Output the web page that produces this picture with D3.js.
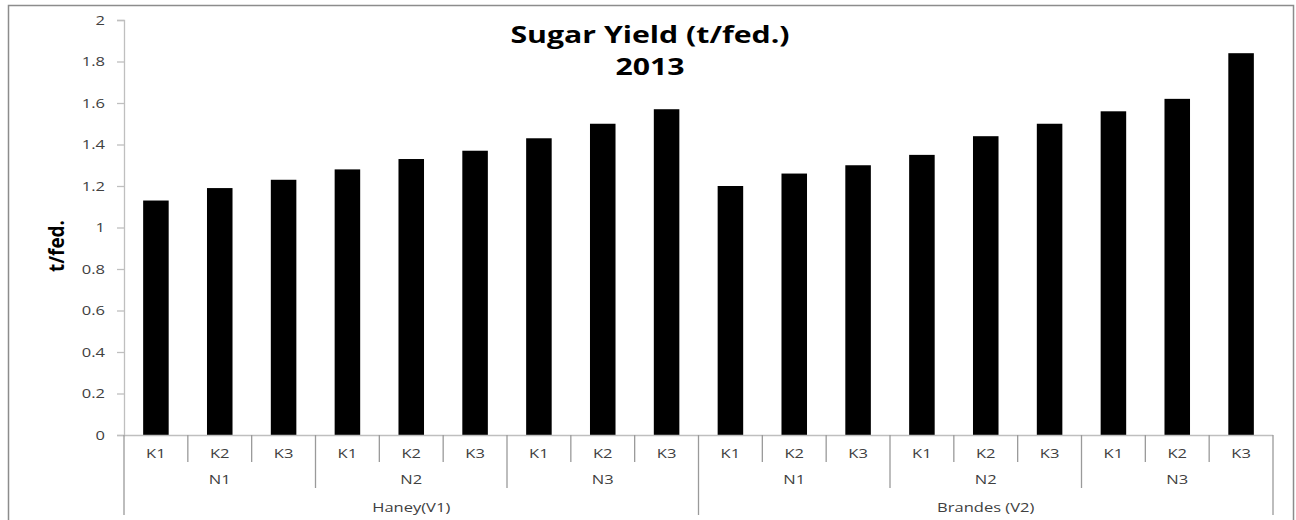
<!DOCTYPE html>
<html>
<head>
<meta charset="utf-8">
<script src="https://cdn.jsdelivr.net/npm/d3@7"></script>
<style>
  html, body { margin: 0; padding: 0; background: #fff; }
  svg { display: block; }
  text { font-family: "Open Sans", "Liberation Sans", sans-serif; }
</style>
</head>
<body>
<svg id="chart" width="1296" height="520"></svg>
<script>
// ---- data ----
const varieties = ["Haney(V1)", "Brandes (V2)"];
const nLevels = ["N1", "N2", "N3"];
const kLevels = ["K1", "K2", "K3"];
const haneyValues = [1.13, 1.19, 1.23, 1.28, 1.33, 1.37, 1.43, 1.50, 1.57];
const brandesValues = [1.20, 1.26, 1.30, 1.35, 1.44, 1.50, 1.56, 1.62, 1.84];
const yTicks = [0, 0.2, 0.4, 0.6, 0.8, 1, 1.2, 1.4, 1.6, 1.8, 2];
const titleLines = ["Sugar Yield (t/fed.)", "2013"];
const yTitle = "t/fed.";

(function () {
// the reference picture is stretched horizontally; widen glyphs to match
const stretch = 1.27;
function widen(sel, factor) {
  sel.each(function () {
    const len = this.getComputedTextLength();
    d3.select(this).attr("textLength", len * factor).attr("lengthAdjust", "spacingAndGlyphs");
  });
}

// build rows
const rows = [];
varieties.forEach((v, vi) => {
  const vals = vi === 0 ? haneyValues : brandesValues;
  nLevels.forEach((n, ni) => {
    kLevels.forEach((k, ki) => {
      rows.push({ id: `${vi}-${ni}-${ki}`, v, n, k, vi, ni, ki, value: vals[ni * 3 + ki] });
    });
  });
});

const svg = d3.select("#chart");
const pLeft = 124, pRight = 1273, pTop = 20, pBottom = 435;

// outer border
svg.append("rect")
  .attr("x", 8.5).attr("y", 5.5)
  .attr("width", 1285).attr("height", 530)
  .attr("fill", "none").attr("stroke", "#8c8c8c").attr("stroke-width", 1.5);

const x = d3.scaleBand().domain(rows.map(d => d.id)).range([pLeft, pRight]).paddingInner(0.6).paddingOuter(0.3);
const xStep = x.step();
const y = d3.scaleLinear().domain([0, 2]).range([pBottom, pTop]);

// y axis
const yAxis = svg.append("g").attr("transform", `translate(${pLeft},0)`)
  .call(d3.axisLeft(y).tickValues(yTicks).tickSize(7).tickPadding(12)
    .tickFormat(d => String(+d.toFixed(1))));
yAxis.select(".domain").attr("stroke", "#bfbfbf").attr("stroke-width", 1.3);
yAxis.selectAll(".tick line").attr("stroke", "#bfbfbf").attr("stroke-width", 1.3);
const yTickText = yAxis.selectAll(".tick text").attr("fill", "#404040").attr("font-size", 13)
  .style("font-family", "'Open Sans', 'Liberation Sans', sans-serif");
widen(yTickText, stretch);

// bars
svg.append("g").selectAll("rect").data(rows).join("rect")
  .attr("x", d => x(d.id))
  .attr("y", d => y(d.value))
  .attr("width", x.bandwidth())
  .attr("height", d => y(0) - y(d.value))
  .attr("fill", "#000");

// x baseline
svg.append("line")
  .attr("x1", pLeft).attr("x2", pRight)
  .attr("y1", pBottom + 0.5).attr("y2", pBottom + 0.5)
  .attr("stroke", "#bfbfbf").attr("stroke-width", 1.3);

// hierarchical category axis
const sep = svg.append("g").attr("stroke", "#9a9a9a").attr("stroke-width", 1.3);
const catLeft = i => pLeft + i * xStep;
for (let i = 0; i <= rows.length; i++) {
  let yEnd = 462;
  if (i % 9 === 0) yEnd = 515;
  else if (i % 3 === 0) yEnd = 488;
  sep.append("line")
    .attr("x1", catLeft(i)).attr("x2", catLeft(i))
    .attr("y1", pBottom).attr("y2", yEnd);
}

const labG = svg.append("g").attr("fill", "#404040").attr("font-size", 13).attr("text-anchor", "middle");
labG.selectAll("text.k").data(rows).join("text").attr("class", "k")
  .attr("x", d => x(d.id) + x.bandwidth() / 2)
  .attr("y", 457.5)
  .text(d => d.k);

const nGroups = [];
varieties.forEach((v, vi) => nLevels.forEach((n, ni) => nGroups.push({ n, i0: vi * 9 + ni * 3 })));
labG.selectAll("text.n").data(nGroups).join("text").attr("class", "n")
  .attr("x", d => catLeft(d.i0) + 1.5 * xStep)
  .attr("y", 484)
  .text(d => d.n);

labG.selectAll("text.v").data(varieties).join("text").attr("class", "v")
  .attr("x", (d, i) => catLeft(i * 9) + 4.5 * xStep)
  .attr("y", 511.5)
  .text(d => d);
widen(labG.selectAll("text"), stretch);

// title
const tG = svg.append("g").attr("font-weight", "bold").attr("font-size", 24).attr("fill", "#000").attr("text-anchor", "middle");
const tTexts = tG.selectAll("text").data(titleLines).join("text")
  .attr("x", 650)
  .attr("y", (d, i) => 43 + i * 32)
  .text(d => d);
widen(tTexts, 1.26);

// y title
const yt = svg.append("text")
  .attr("transform", "translate(64,246) rotate(-90)")
  .attr("text-anchor", "middle")
  .attr("font-weight", "bold")
  .attr("font-size", 21)
  .attr("fill", "#000")
  .text(yTitle);
yt.attr("textLength", 52).attr("lengthAdjust", "spacingAndGlyphs");
})();
</script>
</body>
</html>
